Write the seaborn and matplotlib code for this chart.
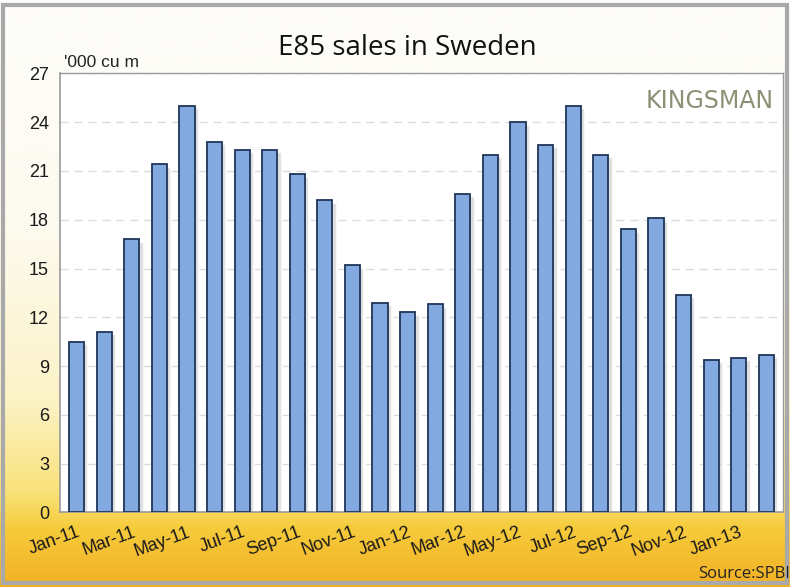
import numpy as np
import pandas as pd
import matplotlib.pyplot as plt
import seaborn as sns
from matplotlib.colors import LinearSegmentedColormap
from matplotlib.patches import Rectangle

sns.set_theme(style="white")
plt.rcParams['font.family'] = ['Liberation Sans', 'DejaVu Sans']

# data ('000 cubic metres, monthly)
months = ['Jan-11', 'Feb-11', 'Mar-11', 'Apr-11', 'May-11', 'Jun-11', 'Jul-11',
          'Aug-11', 'Sep-11', 'Oct-11', 'Nov-11', 'Dec-11',
          'Jan-12', 'Feb-12', 'Mar-12', 'Apr-12', 'May-12', 'Jun-12', 'Jul-12',
          'Aug-12', 'Sep-12', 'Oct-12', 'Nov-12', 'Dec-12',
          'Jan-13', 'Feb-13']
sales = [10.5, 11.1, 16.8, 21.4, 25.0, 22.8, 22.3, 22.3, 20.8, 19.2, 15.2, 12.9,
         12.3, 12.8, 19.6, 22.0, 24.0, 22.6, 25.0, 22.0, 17.4, 18.1, 13.4, 9.4,
         9.5, 9.7]
yticks = [0, 3, 6, 9, 12, 15, 18, 21, 24, 27]

df = pd.DataFrame({'month': months, 'sales': sales})

fig = plt.figure(figsize=(7.9, 5.87), dpi=100)

# sunny background: cream at top, yellow/orange towards the bottom
bg = fig.add_axes([0, 0, 1, 1], zorder=0)
bg_cmap = LinearSegmentedColormap.from_list(
    'sun', [(0.0, '#f2b024'), (0.10, '#f6cc3c'), (0.16, '#f9e27a'),
            (0.32, '#fcf3c8'), (0.6, '#fdfaee'), (1.0, '#fdfdfb')])
grad = np.linspace(0, 1, 256).reshape(-1, 1)
bg.imshow(grad, aspect='auto', cmap=bg_cmap, origin='lower', extent=[0, 1, 0, 1])
bg.add_patch(Rectangle((0.004, 0.006), 0.992, 0.985, fill=False,
                       edgecolor='#a9a9a9', lw=3, transform=bg.transAxes))
bg.set_axis_off()

ax = fig.add_axes([0.076, 0.127, 0.915, 0.748], zorder=1)
ax.set_facecolor('white')

# soft shadow behind the bars
x = np.arange(len(months))
ax.bar(x + 0.12, df['sales'] - 0.15, width=0.55, color='#c8c8c8', alpha=0.6, zorder=2)
sns.barplot(data=df, x='month', y='sales', ax=ax, color='#82aae0',
            edgecolor='#1e3556', linewidth=1.3, width=0.55, saturation=1, zorder=3)

ax.set_ylim(0, 27)
ax.set_xlim(-0.6, len(months) - 0.4)
ax.set_yticks(yticks)
ax.set_yticklabels([str(t) for t in yticks], fontsize=13, color='#1a1a1a')
ax.yaxis.grid(True, linestyle=(0, (6, 4)), color='#dcdcdc', lw=1, zorder=0)
ax.set_axisbelow(True)

ax.set_xticks(x[::2])
ax.set_xticklabels(months[::2], rotation=20, ha='right', rotation_mode='anchor',
                   fontsize=13, color='#1a1a1a')
ax.tick_params(axis='x', length=0, pad=8)
ax.tick_params(axis='y', length=0, pad=8)
ax.set_xlabel('')
ax.set_ylabel('')

for side in ['top', 'right']:
    ax.spines[side].set_color('#9a9a9a')
    ax.spines[side].set_linewidth(1)
for side in ['left', 'bottom']:
    ax.spines[side].set_color('#9a9a9a')
    ax.spines[side].set_linewidth(1.2)

fig.text(0.516, 0.918, 'E85 sales in Sweden', ha='center', va='center',
         fontsize=20, family=['Open Sans', 'DejaVu Sans'], color='#111111')
fig.text(0.081, 0.893, "'000 cu m", ha='left', va='center', fontsize=12.5, color='#222222')
ax.text(0.988, 0.965, 'KINGSMAN', transform=ax.transAxes, ha='right', va='top',
        fontsize=17, color='#8b9174', family=['DejaVu Sans'])
fig.text(1.0, 0.022, 'Source:SPBI', ha='right', va='center', fontsize=12,
         color='#222222', family=['Open Sans', 'DejaVu Sans'])

plt.savefig('out.png', dpi=100)
